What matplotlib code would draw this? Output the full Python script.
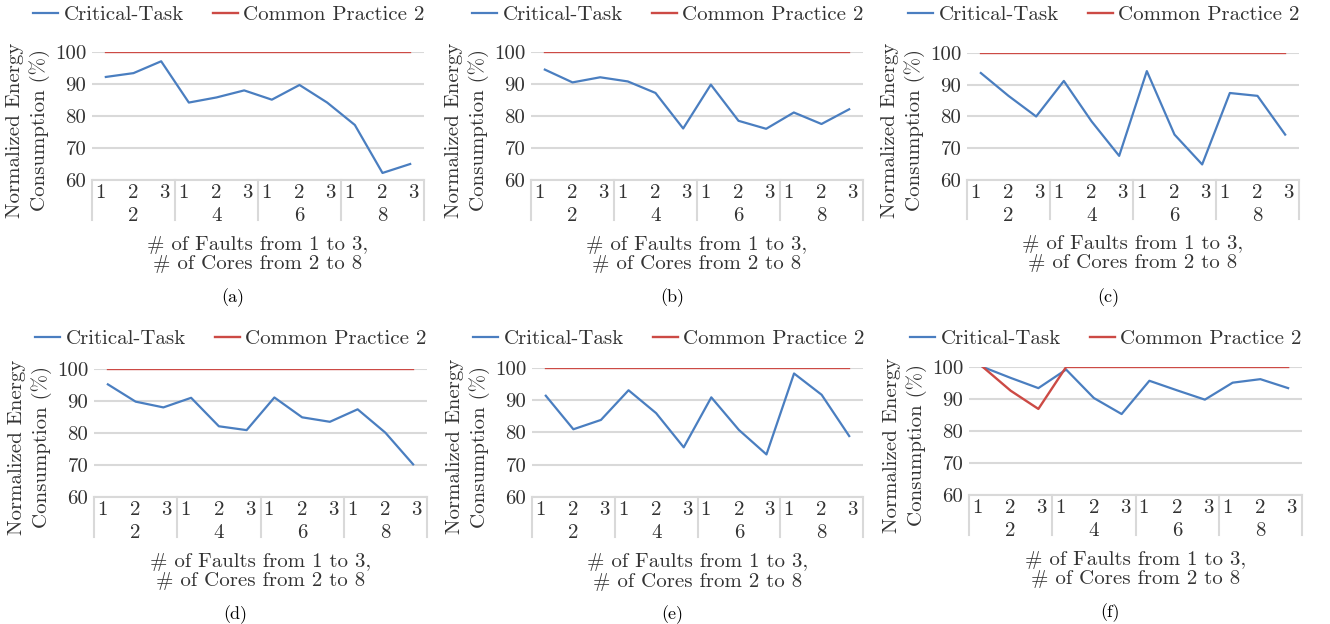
import numpy as np
import matplotlib
matplotlib.use("Agg")
import matplotlib.pyplot as plt

plt.rcParams['font.family'] = ['cmr10', 'DejaVu Serif']
plt.rcParams['mathtext.fontset'] = 'cm'
plt.rcParams['axes.unicode_minus'] = False

# data
faults = ["1", "2", "3"]
cores = ["2", "4", "6", "8"]
captions = ["(a)", "(b)", "(c)", "(d)", "(e)", "(f)"]

critical_a = [92.2, 93.4, 97.1, 84.2, 85.8, 88.0, 85.1, 89.7, 84.2, 77.2, 62.2, 65.0]
critical_b = [94.5, 90.5, 92.1, 90.8, 87.2, 76.1, 89.8, 78.5, 76.0, 81.1, 77.5, 82.1]
critical_c = [93.7, 86.5, 80.0, 91.2, 78.5, 67.6, 94.3, 74.3, 64.9, 87.4, 86.5, 74.3]
critical_d = [95.2, 89.8, 88.0, 91.0, 82.1, 80.9, 91.1, 84.9, 83.5, 87.4, 80.1, 70.2]
critical_e = [91.4, 81.0, 83.9, 93.1, 86.0, 75.4, 90.9, 80.8, 73.2, 98.3, 91.7, 78.9]
critical_f = [100.0, 96.6, 93.4, 99.2, 90.3, 85.3, 95.7, 92.7, 89.8, 95.1, 96.2, 93.4]

common_a = [100] * 12
common_b = [100] * 12
common_c = [100] * 12
common_d = [100] * 12
common_e = [100] * 12
common_f = [100.0, 92.6, 86.9, 100, 100, 100, 100, 100, 100, 100, 100, 100]

critical = [critical_a, critical_b, critical_c, critical_d, critical_e, critical_f]
common = [common_a, common_b, common_c, common_d, common_e, common_f]

# panel boxes in pixels: left, right, top(100), bottom(60), legend y
W, H = 1330, 624
boxes = [(92, 424, 52, 180, 15), (531, 863, 52, 180, 15), (967, 1299, 53, 180, 15),
         (94, 427, 369, 497, 339), (532, 863, 368, 497, 339), (969, 1302, 367, 495, 339)]

blue = '#4a7ec0'
red = '#cc4a45'
grid = '#d9d9d9'
txt = '#333333'
fs = 15

fig = plt.figure(figsize=(W / 100, H / 100), dpi=100)

for i in range(6):
    l, r, t, b, ly = boxes[i]
    ax = fig.add_axes([l / W, 1 - b / H, (r - l) / W, (b - t) / H])
    x = np.arange(len(critical[i]))
    ax.plot(x, critical[i], color=blue, lw=1.6, label='Critical-Task')
    ax.plot(x, common[i], color=red, lw=1.7, label='Common Practice 2')
    ax.set_xlim(-0.5, 11.5)
    ax.set_ylim(60, 100)
    ax.set_yticks([60, 70, 80, 90, 100])
    ax.tick_params(axis='y', length=0, labelsize=fs, pad=4, labelcolor=txt)
    ax.set_xticks([])
    for s in ['top', 'right', 'left']:
        ax.spines[s].set_visible(False)
    ax.spines['bottom'].set_color(grid)
    ax.spines['bottom'].set_linewidth(1.5)
    ax.grid(axis='y', color=grid, lw=1.5)
    ax.set_axisbelow(True)

    # two-level category axis (faults inside cores)
    trans = ax.get_xaxis_transform()
    for k in range(len(cores) + 1):
        xv = k * 3 - 0.5
        ax.plot([xv, xv], [0, -0.31], transform=trans, color=grid, lw=1.5, clip_on=False)
    offs = [-0.2, 0, 0.12]
    for g in range(len(cores)):
        for j in range(len(faults)):
            ax.text(g * 3 + j + offs[j], -0.1, faults[j], transform=trans, ha='center',
                    va='center', fontsize=fs, color=txt)
        ax.text(g * 3 + 1, -0.28, cores[g], transform=trans, ha='center', va='center',
                fontsize=fs, color=txt)

    ax.text(-64 / (r - l), 0.39, 'Normalized Energy\nConsumption (%)', transform=ax.transAxes,
            rotation=90, ha='center', va='center', fontsize=fs, linespacing=1.35, color=txt)
    ax.text(0.5, -0.58, '# of Faults from 1 to 3,\n# of Cores from 2 to 8',
            transform=ax.transAxes, ha='center', va='center', fontsize=fs, color=txt,
            linespacing=1.1)
    fig.text(((l + r) / 2 - 25) / W, 1 - (b + 118) / H, captions[i], ha='center',
             va='center', fontsize=13)
    ax.legend(loc='center', bbox_to_anchor=(137 / (r - l), (b - ly) / (b - t)),
              ncol=2, frameon=False, fontsize=fs, handlelength=1.2, handletextpad=0.25,
              columnspacing=1.4, borderpad=0, labelcolor=txt)

fig.savefig('out.png', dpi=100)
